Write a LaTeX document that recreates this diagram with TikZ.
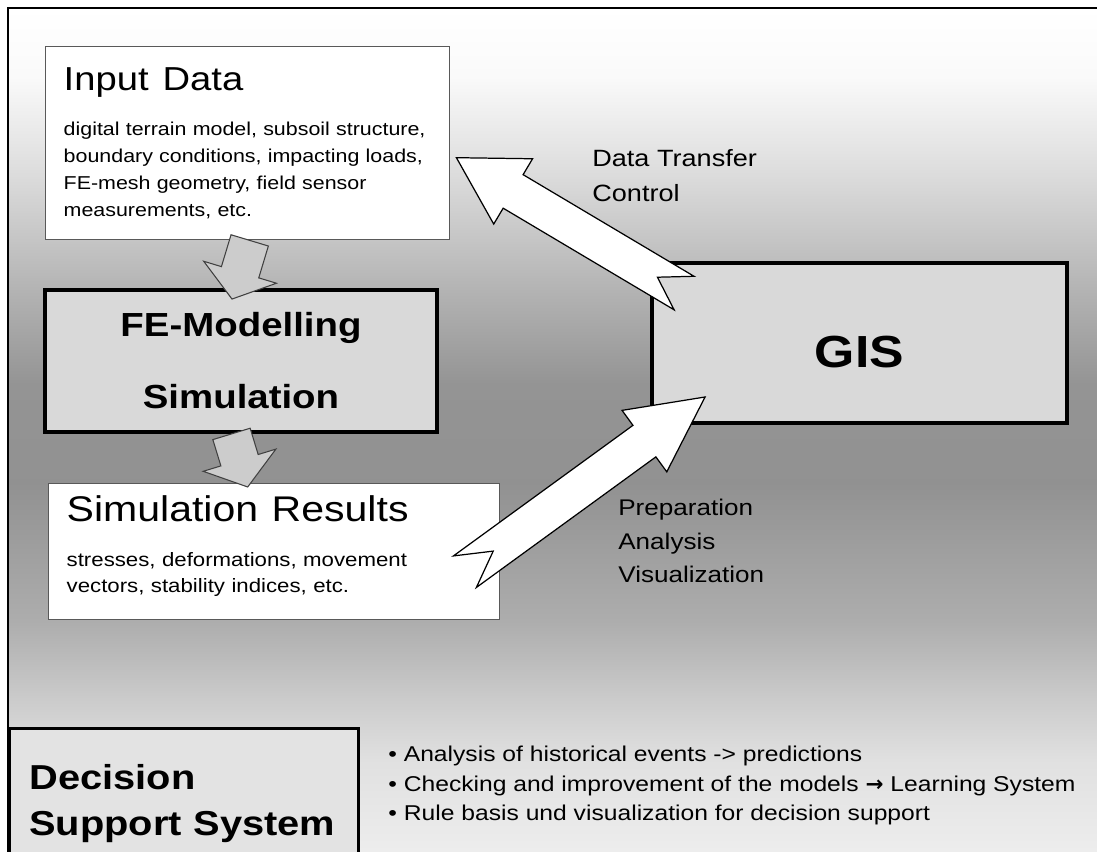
\documentclass[tikz,border=0pt]{standalone}
\usepackage{fontspec}
\setmainfont[FakeStretch=1.15]{Liberation Sans}
\newfontfamily\symfont{DejaVu Sans}
\usetikzlibrary{calc,positioning}

\definecolor{boxgray}{gray}{0.85}
\definecolor{dssgray}{gray}{0.89}
\definecolor{arrowgray}{gray}{0.8}

% backdrop: white on top, dark in the middle, light at the bottom
\pgfdeclareverticalshading{backdrop}{100bp}{color(0bp)=(black!7); color(25bp)=(black!7);
  color(30.4bp)=(black!12); color(33.9bp)=(black!20); color(38.6bp)=(black!32);
  color(46.8bp)=(black!43); color(52.7bp)=(black!42); color(58.6bp)=(black!29);
  color(65bp)=(black!14); color(70.9bp)=(black!2); color(75bp)=(white); color(100bp)=(white)}

\tikzset{
  databox/.style={draw=black!65, line width=0.8pt, fill=white, align=left, inner xsep=0.36cm, inner ysep=0pt,
    anchor=north west, font=\fontsize{10.6}{15.3}\selectfont},
  corebox/.style={draw=black, line width=2.2pt, fill=boxgray, align=center},
  fatarrow/.style={draw=black, line width=0.7pt, fill=white, line join=miter},
  downarrow/.style={draw=black!75, line width=0.6pt, fill=arrowgray},
  note/.style={anchor=north west, align=left, inner sep=0pt},
}

\newcommand{\arrbody}{0.39cm}
\newcommand{\arrhead}{0.76cm}
% block arrow: style, tail, tip, head length, notch depth
\newcommand{\blockarrow}[5]{%
  \coordinate (hb) at ($(#3)!#4!(#2)$);
  \filldraw[#1] ($(#2)!\arrbody!90:(#3)$) -- ($(hb)!\arrbody!90:(#3)$) -- ($(hb)!\arrhead!90:(#3)$) -- (#3)
    -- ($(hb)!\arrhead!-90:(#3)$) -- ($(hb)!\arrbody!-90:(#3)$) -- ($(#2)!\arrbody!-90:(#3)$)
    -- ($(#2)!#5!(#3)$) -- cycle;}

\begin{document}
\begin{tikzpicture}
  \useasboundingbox (0,0) rectangle (21.94,17.04);
  \clip (0,0) rectangle (21.94,17.04);
  \fill[white] (0,0) rectangle (21.94,17.04);
  \shade[shading=backdrop] (0.16,0) rectangle (21.94,16.88);
  \draw[line width=1.4pt] (0.16,0) -- (0.16,16.88) -- (21.94,16.88);

  % boxes
  \node[databox, text width=7.36cm, minimum height=3.86cm] (input) at (0.9,16.12)
    {{\fontsize{18.9}{15.3}\selectfont Input\hspace{0.42em}Data}\\[10.7pt]
     digital terrain model, subsoil structure,\\ boundary conditions, impacting loads,\\
     FE-mesh geometry, field sensor\\ measurements, etc.};
  \node[corebox, minimum width=7.84cm, minimum height=2.84cm, font=\fontsize{19}{41}\selectfont\bfseries]
    (fem) at (4.82,9.82) {FE-Modelling\\Simulation};
  \node[databox, text width=8.3cm, minimum height=2.72cm, font=\fontsize{11}{14.7}\selectfont] (results) at (0.96,7.38)
    {{\fontsize{20.3}{14.7}\selectfont Simulation\hspace{0.38em}Results}\\[10.8pt]
     stresses, deformations, movement\\ vectors, stability indices, etc.\rule[-9pt]{0pt}{0pt}};
  \node[corebox, minimum width=8.3cm, minimum height=3.2cm, text height=27.9pt, text depth=0pt,
    font=\fontsize{25.6}{30}\selectfont\bfseries] (gis) at (17.19,10.18) {GIS};
  \node[corebox, fill=dssgray, line width=1.6pt, anchor=north west, align=left, text width=6.18cm,
    inner xsep=0.4cm, minimum height=3cm, font=\fontsize{19.7}{26}\selectfont\bfseries]
    (dss) at (0.16,2.5) {Decision\\Support System};

  % arrow ends
  \coordinate (downtail1) at ($(input.south)+(0.04,0)$);
  \coordinate (downtip1) at ($(fem.north)+(-0.18,-0.22)$);
  \coordinate (downtail2) at ($(fem.south)+(-0.19,0)$);
  \coordinate (downtip2) at ($(results.north)+(-0.53,-0.08)$);
  \coordinate (transfertail) at ($(gis.north west)+(0.68,-0.64)$);
  \coordinate (transfertip) at ($(input.east)+(0.12,-0.29)$);
  \coordinate (preptail) at ($(results.east)+(-0.71,-0.4)$);
  \coordinate (preptip) at ($(gis.west)+(1.1,-1.08)$);

  \blockarrow{downarrow}{downtail1}{downtip1}{0.56cm}{0cm}
  \blockarrow{downarrow}{downtail2}{downtip2}{0.56cm}{0cm}
  \blockarrow{fatarrow}{transfertail}{transfertip}{1.32cm}{0.62cm}
  \blockarrow{fatarrow}{preptail}{preptip}{1.5cm}{0.7cm}

  % labels
  \node[note, font=\fontsize{13.4}{19.8}\selectfont] (transfer) at (11.84,14.06) {Data Transfer\\Control};
  \node[note, font=\fontsize{12.9}{19}\selectfont] (prep) at (12.36,7.06) {Preparation\\Analysis\\Visualization};
  \node[note, font=\fontsize{12.2}{16.7}\selectfont] (tasks) at (7.76,2.12)
    {\textbullet\ Analysis of historical events -> predictions\\
     \textbullet\ Checking and improvement of the models {\symfont\bfseries →} Learning System\\
     \textbullet\ Rule basis und visualization for decision support};
\end{tikzpicture}
\end{document}
